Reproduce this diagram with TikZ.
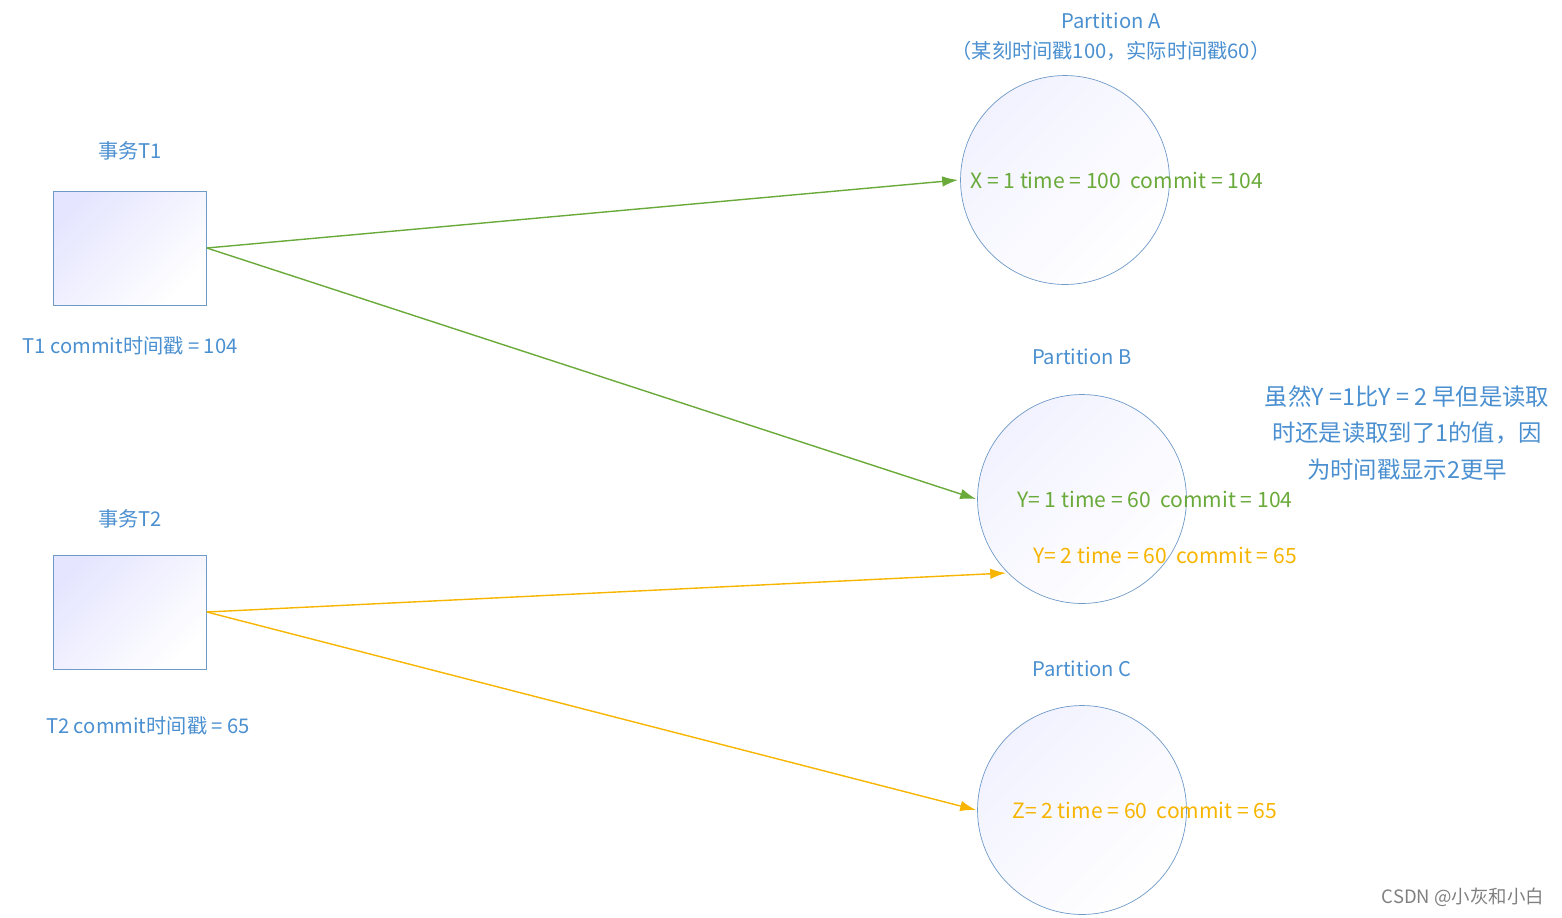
\documentclass[tikz,border=0pt]{standalone}
\usepackage{fontspec}
\setmainfont{Noto Sans CJK SC}
\usepackage{tikz}
\usetikzlibrary{arrows.meta}
\definecolor{txtblue}{HTML}{4A8FD0}
\definecolor{lgreen}{HTML}{6AAA3A}
\definecolor{lorange}{HTML}{F7B500}
\definecolor{boxline}{HTML}{6F9AC8}
\tikzset{
  tbox/.style={draw=boxline,minimum width=3.06cm,minimum height=2.28cm,left color=blue!10,right color=white,shading angle=45},
  part/.style={draw=boxline,circle,minimum size=4.18cm,inner sep=0pt,left color=blue!5,right color=white,shading angle=45},
  lbl/.style={text=txtblue,font=\fontsize{11.5}{16}\selectfont,align=center,inner sep=0pt},
  glbl/.style={text=lgreen,font=\fontsize{12}{16}\selectfont,inner sep=0pt},
  olbl/.style={text=lorange,font=\fontsize{12}{16}\selectfont,inner sep=0pt},
  arr/.style={-{Latex[length=9pt,width=6pt]},line width=0.8pt}
}
\begin{document}
\begin{tikzpicture}[x=0.02cm,y=-0.02cm]
	\useasboundingbox (0,0) rectangle (1562,917);
	
	\node[tbox] (t1) at (130,248) {};
	\node[tbox] (t2) at (130,612) {};
	\node[lbl] (t1name) at (130,151) {事务T1};
	\node[lbl] (t2name) at (130,519) {事务T2};
	\node[lbl] (t1ts) at (130,346) {T1 commit时间戳 = 104};
	\node[lbl] (t2ts) at (148,726) {T2 commit时间戳 = 65};
	
	\node[part] (pa) at (1065,180) {};
	\node[part] (pb) at (1082,499) {};
	\node[part] (pc) at (1082,810) {};
	\node[lbl] (pan) at (1111,21) {Partition A};
	\node[lbl] (pas) at (1111,51) {（某刻时间戳100，实际时间戳60）};
	\node[lbl] (pbn) at (1082,357) {Partition B};
	\node[lbl] (pcn) at (1082,669) {Partition C};
	
	\node[glbl,anchor=west] (xa) at (970,180) {X = 1 time = 100\ \ commit = 104};
	\node[glbl,anchor=west] (yb1) at (1017,499) {Y= 1 time = 60\ \ commit = 104};
	\node[olbl,anchor=west] (yb2) at (1033,555) {Y= 2 time = 60\ \ commit = 65};
	\node[olbl,anchor=west] (zc) at (1012,810) {Z= 2 time = 60\ \ commit = 65};
	
	\node[lbl,font=\fontsize{13.3}{21}\selectfont] (note) at (1407,433) {虽然Y =1比Y = 2 早但是读取\\时还是读取到了1的值，因\\为时间戳显示2更早};
	\node[text=gray,font=\fontsize{10.5}{12}\selectfont,inner sep=0pt] (mark) at (1463,897) {CSDN @小灰和小白};
	
	\coordinate (ea) at (958,180);
	\coordinate (eb1) at (976,499);
	\coordinate (eb2) at (1006,573);
	\coordinate (ec) at (976,810);
	
	\draw[arr,lgreen] (t1.east) to (ea);
	\draw[arr,lgreen] (t1.east) to (eb1);
	\draw[arr,lorange] (t2.east) to (eb2);
	\draw[arr,lorange] (t2.east) to (ec);
	
\end{tikzpicture}
\end{document}
